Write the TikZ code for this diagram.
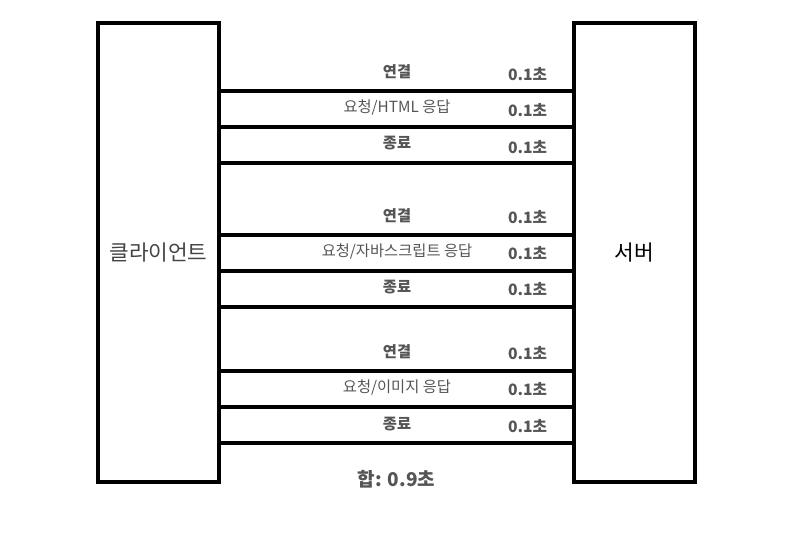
\documentclass[tikz,border=0pt]{standalone}
\usepackage{fontspec}
\setmainfont{Noto Sans CJK KR}
\usepackage{xcolor}
\usepackage{tikz}
\usetikzlibrary{positioning}
\definecolor{labelgray}{HTML}{555555}
\definecolor{clientgray}{HTML}{444444}

\begin{document}
\begin{tikzpicture}[x=0.75pt, y=-0.75pt,
    hostbox/.style={draw, line width=3pt, minimum width=90.75pt, minimum height=344.25pt, inner sep=0pt, font=\fontsize{16}{18}\selectfont},
    link/.style={line width=3pt},
    steplabel/.style={text=labelgray, inner sep=0pt, font=\fontsize{11.5}{13}\selectfont},
    boldlabel/.style={steplabel, font=\fontsize{11.5}{13}\selectfont\bfseries},
    timelabel/.style={text=labelgray, inner sep=0pt, font=\fontsize{11.75}{13}\selectfont\bfseries}]
    \useasboundingbox (0,0) rectangle (805,540);

    % Klient i serwer
    \node[hostbox, text=clientgray] (client) at (158.5,252.5) {클라이언트};
    \node[hostbox] (server) at (634.5,252.5) {서버};

    % Linie: HTML
    \coordinate (h1) at (219,90.5);
    \coordinate (h2) at (219,126.5);
    \coordinate (h3) at (219,162.5);
    \draw[link] (h1) -- (h1 -| server.west);
    \draw[link] (h2) -- (h2 -| server.west);
    \draw[link] (h3) -- (h3 -| server.west);

    % Linie: skrypt
    \coordinate (s1) at (219,234.5);
    \coordinate (s2) at (219,270.5);
    \coordinate (s3) at (219,306.5);
    \draw[link] (s1) -- (s1 -| server.west);
    \draw[link] (s2) -- (s2 -| server.west);
    \draw[link] (s3) -- (s3 -| server.west);

    % Linie: obraz
    \coordinate (i1) at (219,370.5);
    \coordinate (i2) at (219,406.5);
    \coordinate (i3) at (219,442.5);
    \draw[link] (i1) -- (i1 -| server.west);
    \draw[link] (i2) -- (i2 -| server.west);
    \draw[link] (i3) -- (i3 -| server.west);

    % Opisy: HTML
    \node[boldlabel] (hconn) at (397,72) {연결};
    \node[steplabel] (hreq) at (397,107) {요청/HTML 응답};
    \node[boldlabel] (hend) at (397,143) {종료};
    \node[timelabel] (ht1) at (527.5,74) {0.1초};
    \node[timelabel] (ht2) at (527.5,110) {0.1초};
    \node[timelabel] (ht3) at (527.5,147) {0.1초};

    % Opisy: skrypt
    \node[boldlabel] (sconn) at (397,216) {연결};
    \node[steplabel] (sreq) at (397,251) {요청/자바스크립트 응답};
    \node[boldlabel] (send) at (397,287) {종료};
    \node[timelabel] (st1) at (527.5,217) {0.1초};
    \node[timelabel] (st2) at (527.5,253) {0.1초};
    \node[timelabel] (st3) at (527.5,289) {0.1초};

    % Opisy: obraz
    \node[boldlabel] (iconn) at (397,352) {연결};
    \node[steplabel] (ireq) at (397,387) {요청/이미지 응답};
    \node[boldlabel] (iend) at (397,424) {종료};
    \node[timelabel] (it1) at (527.5,353) {0.1초};
    \node[timelabel] (it2) at (527.5,389) {0.1초};
    \node[timelabel] (it3) at (527.5,426) {0.1초};

    % Suma
    \node[timelabel, font=\fontsize{14.25}{16}\selectfont\bfseries] (total) at (396.5,479) {합: 0.9초};
\end{tikzpicture}
\end{document}
